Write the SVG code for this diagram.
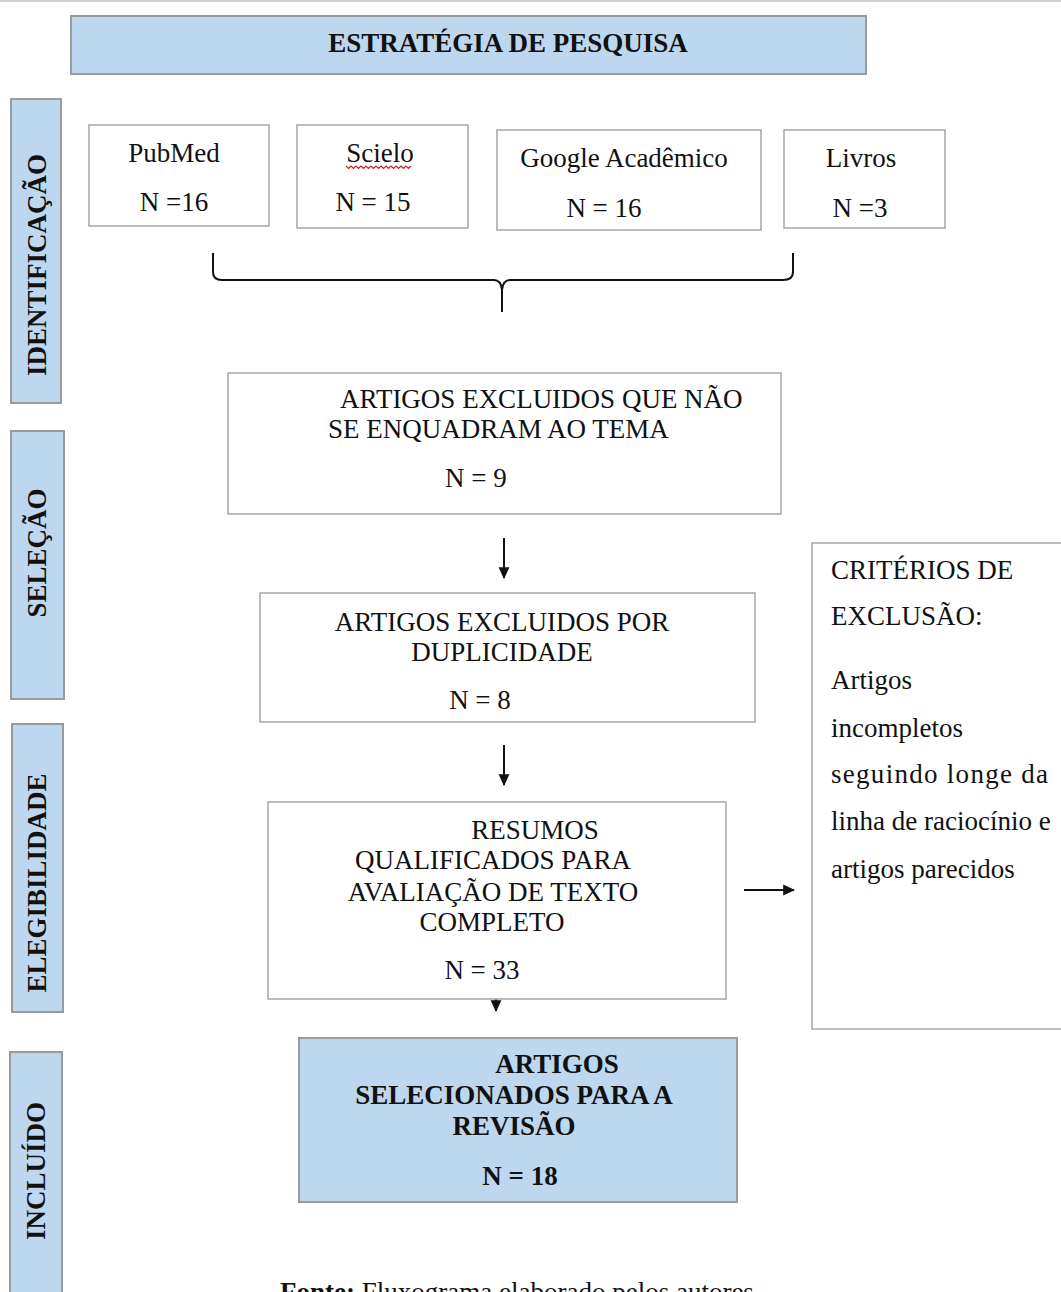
<svg xmlns="http://www.w3.org/2000/svg" width="1061" height="1292" viewBox="0 0 1061 1292">
<defs>
<style>
.blue{fill:#bdd7ee;stroke:#9a9a9a;stroke-width:2}
.box{fill:#ffffff;stroke:#a6a6a6;stroke-width:1.5}
text{font-family:"Liberation Serif","Times New Roman",serif;fill:#111;font-size:27px}
.b{font-weight:bold}
.side{font-weight:bold}
.c{text-anchor:middle}
.ln{stroke:#111;stroke-width:2;fill:none}
</style>
<marker id="ah" viewBox="0 0 10 10" refX="9" refY="5" markerWidth="12" markerHeight="12" markerUnits="userSpaceOnUse" orient="auto">
<path d="M0,0.5 L10,5 L0,9.5 z" fill="#111"/>
</marker>
</defs>
<rect x="0" y="0" width="1061" height="1292" fill="#ffffff"/>
<line x1="0" y1="1" x2="1061" y2="1" stroke="#cfcfcf" stroke-width="2"/>

<g id="title">
<rect class="blue" x="71" y="16" width="795" height="58"/>
<text class="b c" x="508" y="52">ESTRATÉGIA DE PESQUISA</text>
</g>

<g id="side-identificacao">
<rect class="blue" x="11" y="99" width="50" height="304"/>
<text class="side c" transform="translate(46,265) rotate(-90)">IDENTIFICAÇÃO</text>
</g>
<g id="side-selecao">
<rect class="blue" x="11" y="431" width="53" height="268"/>
<text class="side c" transform="translate(46,553) rotate(-90)">SELEÇÃO</text>
</g>
<g id="side-elegibilidade">
<rect class="blue" x="12" y="724" width="51" height="288"/>
<text class="side c" transform="translate(46,883) rotate(-90)">ELEGIBILIDADE</text>
</g>
<g id="side-incluido">
<rect class="blue" x="10" y="1052" width="52" height="250"/>
<text class="side c" transform="translate(45,1171) rotate(-90)">INCLUÍDO</text>
</g>

<g id="pubmed">
<rect class="box" x="89" y="125" width="180" height="101"/>
<text class="c" x="174" y="162">PubMed</text>
<text class="c" x="174" y="211">N =16</text>
</g>
<g id="scielo">
<rect class="box" x="297" y="125" width="171" height="103"/>
<text class="c" x="380" y="162">Scielo</text>
<path d="M346,166 l2.5,2.5 l2.5,-2.5 l2.5,2.5 l2.5,-2.5 l2.5,2.5 l2.5,-2.5 l2.5,2.5 l2.5,-2.5 l2.5,2.5 l2.5,-2.5 l2.5,2.5 l2.5,-2.5 l2.5,2.5 l2.5,-2.5 l2.5,2.5 l2.5,-2.5 l2.5,2.5 l2.5,-2.5 l2.5,2.5 l2.5,-2.5 l2.5,2.5 l2.5,-2.5 l2.5,2.5 l2.5,-2.5 l2.5,2.5 l2.5,-2.5" stroke="#d02020" stroke-width="1.2" fill="none"/>
<text class="c" x="373" y="211">N = 15</text>
</g>
<g id="google">
<rect class="box" x="497" y="130" width="264" height="100"/>
<text class="c" x="624" y="167">Google Acadêmico</text>
<text class="c" x="604" y="217">N = 16</text>
</g>
<g id="livros">
<rect class="box" x="784" y="130" width="161" height="98"/>
<text class="c" x="861" y="167">Livros</text>
<text class="c" x="860" y="217">N =3</text>
</g>

<g id="connectors">
<path class="ln" d="M213,253 L213,272 Q213,280 222,280 L494,280 Q501,280 502,290 L502,312 M502,290 Q503,280 510,280 L783,280 Q793,280 793,272 L793,253"/>
<line class="ln" x1="504" y1="538" x2="504" y2="578" marker-end="url(#ah)"/>
<line class="ln" x1="504" y1="745" x2="504" y2="785" marker-end="url(#ah)"/>
<line class="ln" x1="496" y1="972" x2="496" y2="1011" marker-end="url(#ah)"/>
<line class="ln" x1="744" y1="890" x2="794" y2="890" marker-end="url(#ah)"/>
</g>

<g id="excluidos-tema">
<rect class="box" x="228" y="373" width="553" height="141"/>
<text x="340" y="408">ARTIGOS EXCLUIDOS QUE NÃO</text>
<text x="328" y="438">SE ENQUADRAM AO TEMA</text>
<text x="445" y="487">N = 9</text>
</g>

<g id="excluidos-duplicidade">
<rect class="box" x="260" y="593" width="495" height="129"/>
<text class="c" x="502" y="631">ARTIGOS EXCLUIDOS POR</text>
<text class="c" x="502" y="661">DUPLICIDADE</text>
<text class="c" x="480" y="709">N = 8</text>
</g>

<g id="resumos">
<rect class="box" x="268" y="802" width="458" height="197"/>
<text class="c" x="535" y="839">RESUMOS</text>
<text class="c" x="493" y="869">QUALIFICADOS PARA</text>
<text class="c" x="493" y="901">AVALIAÇÃO DE TEXTO</text>
<text class="c" x="492" y="931">COMPLETO</text>
<text class="c" x="482" y="979">N = 33</text>
</g>

<g id="criterios">
<rect class="box" x="812" y="543" width="260" height="486"/>
<text x="831" y="579">CRITÉRIOS DE</text>
<text x="831" y="625">EXCLUSÃO:</text>
<text x="831" y="689">Artigos</text>
<text x="831" y="737">incompletos</text>
<text x="831" y="783" textLength="217" lengthAdjust="spacing">seguindo longe da</text>
<text x="831" y="830">linha de raciocínio e</text>
<text x="831" y="878">artigos parecidos</text>
</g>

<g id="selecionados">
<rect class="blue" x="299" y="1038" width="438" height="164"/>
<text class="b c" x="557" y="1073">ARTIGOS</text>
<text class="b c" x="514" y="1104">SELECIONADOS PARA A</text>
<text class="b c" x="514" y="1135">REVISÃO</text>
<text class="b c" x="520" y="1185">N = 18</text>
</g>

<g id="fonte">
<text x="280" y="1301"><tspan class="b">Fonte:</tspan> Fluxograma elaborado pelos autores</text>
</g>
</svg>
